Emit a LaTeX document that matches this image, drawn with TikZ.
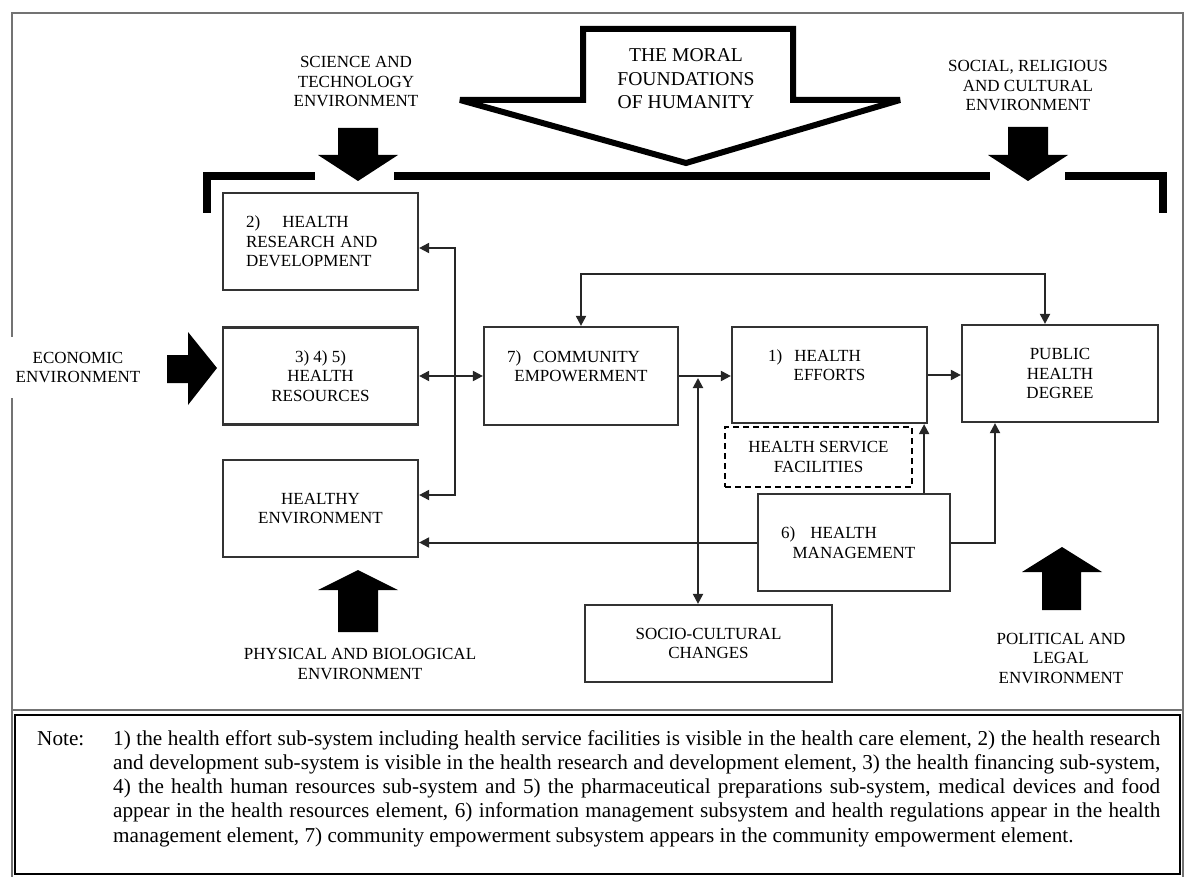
\documentclass[tikz,border=0pt]{standalone}
\usepackage{fontspec}
\setmainfont{Liberation Serif}
\usetikzlibrary{arrows.meta}

\begin{document}
\begin{tikzpicture}[x=1pt, y=-1pt,
  box/.style={draw=black!80, line width=2.2pt, fill=white, align=center,
    minimum width=195pt, minimum height=97pt, inner sep=0pt},
  envtext/.style={align=center, inner sep=0pt},
  link/.style={draw=black!85, line width=2pt, -{Triangle[length=10pt,width=10pt]}},
  twoway/.style={link, {Triangle[length=10pt,width=10pt]}-{Triangle[length=10pt,width=10pt]}},
  every node/.style={font=\fontsize{17pt}{19.5pt}\selectfont}
]
\useasboundingbox (0,0) rectangle (1185,877);

% frame and note box
\draw[black!55, line width=2pt] (12,877) -- (12,13) -- (1183,13) -- (1183,877);
\draw[black!55, line width=2pt] (12,710) -- (1183,710);
\draw[line width=2pt] (15,715) rectangle (1180,874);

% bracket
\draw[line width=8pt] (207,213) -- (207,176) -- (315,176);
\draw[line width=8pt] (394,176) -- (990,176);
\draw[line width=8pt] (1065,176) -- (1163,176) -- (1163,213);

% moral arrow
\draw[line width=6pt, fill=white, miter limit=2] (583,29) -- (793,29) -- (793,100) -- (900,100)
  -- (686,163) -- (460,100) -- (583,100) -- cycle;

% environment arrows
\fill (338,128) -- (378,128) -- (378,155) -- (398,155) -- (358,181) -- (318,155) -- (338,155) -- cycle;
\fill (1008,127) -- (1048,127) -- (1048,155) -- (1068,155) -- (1028,181) -- (988,155) -- (1008,155) -- cycle;
\fill (338,632) -- (378,632) -- (378,590) -- (398,590) -- (358,570) -- (318,590) -- (338,590) -- cycle;
\fill (1042,610) -- (1081,610) -- (1081,572) -- (1102,572) -- (1062,547) -- (1022,572) -- (1042,572) -- cycle;
\fill (167,355) -- (188,355) -- (188,332) -- (217,368) -- (188,405) -- (188,383) -- (167,383) -- cycle;

\node[envtext] (sci) at (356,82) {SCIENCE AND\\TECHNOLOGY\\ENVIRONMENT};
\node[envtext, font=\fontsize{19.6pt}{23.5pt}\selectfont] (moral) at (686,79) {THE MORAL\\FOUNDATIONS\\OF HUMANITY};
\node[envtext] (socenv) at (1028,86) {SOCIAL, RELIGIOUS\\AND CULTURAL\\ENVIRONMENT};
\node[envtext, fill=white, minimum width=156pt, minimum height=61pt] (econ) at (78,367.5) {ECONOMIC\\ENVIRONMENT};
\node[envtext] (phys) at (360,664) {PHYSICAL AND BIOLOGICAL\\ENVIRONMENT};
\node[envtext] (pol) at (1061,658) {POLITICAL AND\\LEGAL\\ENVIRONMENT};

% elements
\node[box, align=left, text width=149pt] (hrd) at (320.5,241.5) {2)\hspace{1.3em}HEALTH\\RESEARCH AND\\DEVELOPMENT};
\node[box] (hres) at (320.5,376) {3) 4) 5)\\HEALTH\\RESOURCES};
\node[box] (henv) at (320.5,508.5) {HEALTHY\\ENVIRONMENT};
\node[box, minimum width=194pt, minimum height=98pt] (comm) at (581,376) {7)\hspace{12pt}COMMUNITY\makebox[15pt]{}\\EMPOWERMENT\\\phantom{H}};
\node[box, minimum height=96pt] (eff) at (829.5,375) {1)\hspace{12pt}HEALTH\makebox[30pt]{}\\EFFORTS\\\phantom{H}};
\node[box, minimum width=196pt] (pub) at (1060,373.5) {PUBLIC\\HEALTH\\DEGREE};
\node[box, draw=black, line width=2pt, dash pattern=on 6pt off 4pt, minimum width=187pt, minimum height=60pt] (hsf) at (818.5,457) {HEALTH SERVICE\\FACILITIES};
\node[box, minimum width=192pt] (mgmt) at (854,542.5) {6)\hspace{15pt}HEALTH\makebox[50pt]{}\\MANAGEMENT};
\node[box, minimum width=247pt, minimum height=77pt] (soc) at (708.5,643.5) {SOCIO-CULTURAL\\CHANGES};

% connectors
\coordinate (bus) at (455,376);
\coordinate (cross) at (698,378);
\draw[twoway] (hres.east) -- (comm.west);
\draw[link] (bus) |- ([yshift=-6.5pt]hrd.east);
\draw[link] (bus) |- ([yshift=13.5pt]henv.east);
\draw[link] (mgmt.west) -- (mgmt.west -| henv.east);
\draw[link] (comm.east) -- (comm.east -| eff.west);
\draw[link] (eff.east) -- (eff.east -| pub.west);
\draw[twoway] (comm.north) -- ++(0,-52) -| ([xshift=-15pt]pub.north);
\draw[twoway] (cross) -- (cross |- soc.north);
\draw[link] ([xshift=-4pt]eff.south east |- mgmt.north) -- ([xshift=-4pt]eff.south east);
\draw[link] (mgmt.east) -| ([xshift=-65pt]pub.south);

% note
\node[anchor=base west, inner sep=0pt, font=\fontsize{21.2pt}{24.3pt}\selectfont] (notelabel) at (37,745) {Note:};
\node[anchor=base west, inner sep=0pt, text width=1047pt, align=justify, font=\fontsize{21.2pt}{24.3pt}\selectfont] (notetext) at (113,745)
  {1) the health effort sub-system including health service facilities is visible in the health care element, 2) the health research\linebreak
   and development sub-system is visible in the health research and development element, 3) the health financing sub-system,\linebreak
   4) the health human resources sub-system and 5) the pharmaceutical preparations sub-system, medical devices and food\linebreak
   appear in the health resources element, 6) information management subsystem and health regulations appear in the health\linebreak
   management element, 7) community empowerment subsystem appears in the community empowerment element.};
\end{tikzpicture}
\end{document}
